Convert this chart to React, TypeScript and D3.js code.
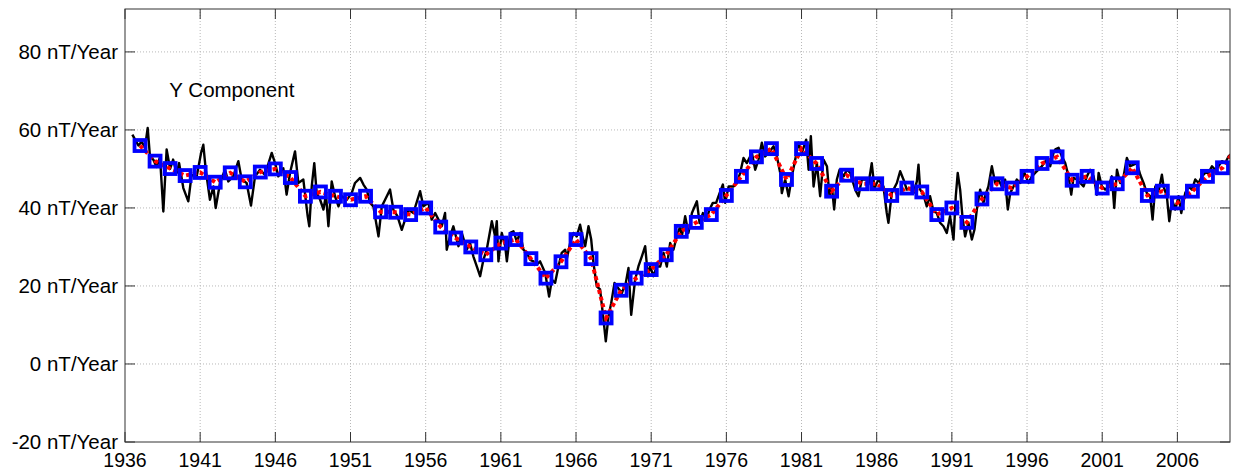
import React from 'react';
import * as d3 from 'd3';

const xTicks = [1936, 1941, 1946, 1951, 1956, 1961, 1966, 1971, 1976, 1981, 1986, 1991, 1996, 2001, 2006];
const yTicks = [-20, 0, 20, 40, 60, 80];
const yTickLabels = ['-20 nT/Year', '0 nT/Year', '20 nT/Year', '40 nT/Year', '60 nT/Year', '80 nT/Year'];
const chartLabel = 'Y Component';

// Annual means (blue squares + red dotted line)
const annualYears = [
  1937, 1938, 1939, 1940, 1941, 1942, 1943, 1944, 1945, 1946, 1947, 1948, 1949, 1950,
  1951, 1952, 1953, 1954, 1955, 1956, 1957, 1958, 1959, 1960, 1961, 1962, 1963, 1964,
  1965, 1966, 1967, 1968, 1969, 1970, 1971, 1972, 1973, 1974, 1975, 1976, 1977, 1978,
  1979, 1980, 1981, 1982, 1983, 1984, 1985, 1986, 1987, 1988, 1989, 1990, 1991, 1992,
  1993, 1994, 1995, 1996, 1997, 1998, 1999, 2000, 2001, 2002, 2003, 2004, 2005, 2006,
  2007, 2008, 2009, 2010,
];
const annualRate = [
  56.0, 52.0, 50.1, 48.3, 49.1, 46.6, 49.0, 46.7, 49.2, 50.0, 47.8, 43.0, 44.1, 43.0,
  42.1, 43.0, 39.0, 38.9, 38.3, 40.0, 35.1, 32.3, 30.0, 28.0, 31.0, 31.9, 27.0, 22.0,
  26.2, 31.9, 27.0, 11.8, 18.9, 22.0, 24.2, 28.0, 34.0, 36.3, 38.3, 43.2, 48.1, 53.1,
  55.2, 47.3, 55.2, 51.4, 44.3, 48.4, 46.2, 46.2, 43.2, 45.1, 44.1, 38.3, 40.0, 36.3,
  42.3, 46.2, 45.1, 48.1, 51.4, 53.1, 47.1, 48.1, 45.1, 46.2, 50.3, 43.2, 44.3, 41.3,
  44.3, 48.1, 50.3, 56.0,
];

// Sub-annual secular variation (black line), time in decimal years
const subTime = [
  1936.49, 1936.67, 1936.89, 1937.11, 1937.33, 1937.51, 1937.66, 1937.88, 1938.10, 1938.33,
  1938.55, 1938.77, 1939.00, 1939.20, 1939.44, 1939.60, 1939.88, 1940.21, 1940.43, 1940.77,
  1941.06, 1941.21, 1941.37, 1941.65, 1941.88, 1942.03, 1942.32, 1942.65, 1942.87, 1943.20,
  1943.54, 1943.76, 1944.09, 1944.38, 1944.65, 1944.98, 1945.31, 1945.76, 1945.98, 1946.20,
  1946.53, 1946.75, 1946.98, 1947.31, 1947.53, 1947.86, 1948.15, 1948.26, 1948.42, 1948.59,
  1948.75, 1948.98, 1949.20, 1949.37, 1949.53, 1949.75, 1949.97, 1950.20, 1950.42, 1950.75,
  1951.08, 1951.30, 1951.64, 1951.86, 1952.08, 1952.30, 1952.52, 1952.86, 1953.08, 1953.30,
  1953.63, 1953.85, 1954.12, 1954.41, 1954.63, 1954.85, 1955.18, 1955.63, 1955.85, 1956.18,
  1956.40, 1956.63, 1956.85, 1957.07, 1957.29, 1957.40, 1957.62, 1957.84, 1958.18, 1958.40,
  1958.73, 1958.95, 1959.17, 1959.40, 1959.62, 1959.84, 1960.06, 1960.40, 1960.62, 1960.73,
  1960.84, 1961.06, 1961.29, 1961.40, 1961.62, 1961.84, 1962.06, 1962.28, 1962.50, 1962.73,
  1962.95, 1963.17, 1963.39, 1963.61, 1963.95, 1964.21, 1964.39, 1964.61, 1964.83, 1965.05,
  1965.28, 1965.39, 1965.61, 1965.83, 1966.05, 1966.27, 1966.43, 1966.61, 1966.83, 1967.01,
  1967.16, 1967.38, 1967.60, 1967.83, 1967.98, 1968.16, 1968.34, 1968.56, 1968.71, 1968.87,
  1969.05, 1969.31, 1969.49, 1969.67, 1969.93, 1970.15, 1970.38, 1970.60, 1970.78, 1970.93,
  1971.15, 1971.37, 1971.60, 1971.82, 1972.04, 1972.26, 1972.48, 1972.70, 1972.93, 1973.04,
  1973.26, 1973.48, 1973.71, 1974.04, 1974.22, 1974.44, 1974.66, 1974.88, 1975.10, 1975.32,
  1975.55, 1975.77, 1975.92, 1976.15, 1976.48, 1976.70, 1976.92, 1977.14, 1977.36, 1977.70,
  1977.92, 1978.14, 1978.36, 1978.58, 1978.81, 1979.14, 1979.36, 1979.58, 1979.69, 1979.91,
  1980.14, 1980.36, 1980.58, 1980.80, 1981.02, 1981.31, 1981.47, 1981.62, 1981.80, 1982.02,
  1982.24, 1982.46, 1982.69, 1982.86, 1983.02, 1983.17, 1983.35, 1983.53, 1983.80, 1984.02,
  1984.24, 1984.57, 1984.79, 1985.01, 1985.34, 1985.45, 1985.67, 1985.85, 1986.12, 1986.45,
  1986.67, 1986.78, 1987.00, 1987.34, 1987.56, 1987.78, 1988.00, 1988.22, 1988.45, 1988.67,
  1988.78, 1988.89, 1989.11, 1989.33, 1989.55, 1989.78, 1990.00, 1990.22, 1990.44, 1990.66,
  1990.88, 1991.11, 1991.26, 1991.39, 1991.55, 1991.70, 1991.88, 1992.10, 1992.33, 1992.50,
  1992.66, 1992.88, 1993.10, 1993.21, 1993.43, 1993.66, 1993.88, 1994.10, 1994.32, 1994.54,
  1994.72, 1994.88, 1995.10, 1995.32, 1995.54, 1995.83, 1996.10, 1996.32, 1996.54, 1996.76,
  1996.98, 1997.31, 1997.54, 1997.76, 1997.88, 1998.10, 1998.32, 1998.54, 1998.76, 1998.94,
  1999.09, 1999.32, 1999.54, 1999.76, 1999.98, 2000.20, 2000.43, 2000.65, 2000.76, 2000.98,
  2001.20, 2001.42, 2001.64, 2001.80, 2001.98, 2002.20, 2002.42, 2002.64, 2002.86, 2003.09,
  2003.31, 2003.53, 2003.75, 2003.97, 2004.19, 2004.35, 2004.53, 2004.75, 2004.97, 2005.08,
  2005.30, 2005.46, 2005.64, 2005.86, 2006.08, 2006.26, 2006.52, 2006.74, 2006.97, 2007.19,
  2007.41, 2007.63, 2007.85, 2008.07, 2008.30, 2008.52, 2008.74, 2008.96, 2009.18, 2009.40,
  2009.63,
];
const subRate = [
  58.8, 57.5, 56.0, 57.0, 55.5, 60.5, 53.2, 52.4, 50.5, 53.0,
  39.1, 55.0, 50.0, 52.4, 49.0, 51.5, 45.1, 41.7, 48.5, 48.1,
  54.1, 56.2, 49.8, 42.1, 45.5, 40.0, 46.4, 49.8, 46.8, 48.1,
  52.0, 47.3, 46.4, 40.6, 48.1, 49.8, 48.5, 54.1, 51.5, 48.1,
  50.2, 43.4, 49.0, 54.5, 46.4, 47.3, 37.9, 35.3, 45.5, 51.5,
  43.8, 42.1, 39.6, 43.4, 35.3, 46.8, 43.0, 40.4, 43.0, 42.1,
  43.8, 46.4, 47.7, 46.0, 44.7, 41.3, 40.4, 32.7, 40.4, 42.1,
  44.7, 39.6, 37.9, 34.4, 37.0, 39.6, 38.7, 44.3, 40.4, 41.3,
  37.0, 38.7, 37.0, 35.3, 38.7, 29.3, 32.7, 35.3, 30.2, 33.6,
  29.3, 31.0, 27.6, 25.0, 22.5, 26.7, 29.3, 36.6, 32.7, 36.6,
  26.3, 33.6, 30.2, 26.3, 33.6, 34.0, 31.4, 33.6, 29.3, 28.5,
  26.7, 26.3, 25.5, 26.3, 23.3, 17.3, 21.6, 20.8, 25.0, 28.5,
  29.3, 27.0, 31.0, 33.6, 32.7, 35.7, 32.7, 30.2, 35.3, 31.9,
  25.9, 19.9, 19.1, 11.3, 5.8, 12.2, 15.6, 20.8, 19.9, 19.1,
  18.2, 20.8, 24.6, 12.6, 21.6, 25.0, 27.6, 30.2, 22.5, 25.0,
  22.5, 25.0, 25.0, 28.5, 25.0, 31.0, 29.3, 32.7, 35.3, 32.7,
  37.9, 33.6, 38.7, 41.7, 36.1, 38.7, 37.0, 39.6, 41.3, 41.3,
  43.8, 46.0, 41.3, 45.5, 45.5, 46.4, 49.0, 52.8, 51.5, 54.1,
  49.8, 52.4, 56.7, 53.2, 54.1, 55.8, 53.2, 49.0, 43.8, 47.3,
  43.0, 48.1, 52.4, 56.7, 54.1, 57.5, 49.8, 58.4, 45.5, 51.5,
  43.0, 52.4, 50.7, 43.0, 45.5, 39.6, 47.3, 49.8, 48.1, 49.8,
  49.0, 44.7, 43.0, 47.3, 47.3, 46.0, 51.5, 45.1, 47.3, 45.5,
  38.7, 36.2, 43.8, 46.4, 49.4, 47.3, 44.7, 45.1, 43.8, 46.8,
  51.1, 44.7, 43.4, 40.4, 43.0, 39.1, 38.7, 36.2, 35.3, 33.6,
  37.9, 31.9, 43.0, 49.0, 44.7, 37.9, 32.7, 36.2, 31.9, 34.4,
  39.6, 44.7, 41.3, 43.0, 45.5, 50.7, 46.4, 47.3, 45.5, 47.3,
  39.6, 43.8, 45.5, 47.3, 46.4, 49.0, 46.4, 48.1, 49.0, 49.8,
  50.7, 52.4, 50.7, 54.1, 55.0, 55.4, 53.2, 51.5, 48.1, 43.4,
  47.7, 47.3, 46.4, 45.5, 48.1, 49.8, 48.1, 43.4, 49.0, 45.5,
  44.7, 45.5, 48.1, 40.0, 49.8, 46.4, 48.1, 52.8, 50.7, 51.1,
  51.5, 48.5, 46.4, 43.8, 43.0, 37.0, 45.5, 44.3, 48.5, 45.5,
  43.0, 36.6, 42.1, 39.6, 43.0, 38.7, 43.8, 45.5, 44.7, 47.3,
  46.4, 48.1, 49.0, 49.0, 50.7, 49.8, 50.7, 52.0, 51.5, 53.2,
  54.0,
];

const W = 1235;
const H = 475;
const L = 125, R = 1230, T = 9, B = 442;
const FONT = "'Liberation Sans', Arial, Helvetica, sans-serif";

export default function App() {
  const x = d3.scaleLinear().domain([1936, 2009.5]).range([L, R]);
  const y = d3.scaleLinear().domain([-20, 91]).range([B, T]);

  const sub: [number, number][] = subTime.map((t, i) => [t, subRate[i]]);
  const annual: [number, number][] = annualYears.map((t, i) => [t, annualRate[i]]);
  const line = d3.line<[number, number]>().x(d => x(d[0])).y(d => y(d[1]));

  const tickLen = 10;
  const axisColor = '#333';
  const gridColor = '#b8b8b8';
  const sq = 11;

  return (
    <svg width={W} height={H} style={{ position: 'absolute', left: 0, top: 0, background: '#fff' }}
      fontFamily={FONT}>
      <defs>
        <clipPath id="plotClip">
          <rect x={L} y={T} width={R - L} height={B - T} />
        </clipPath>
      </defs>
      <rect x={0} y={0} width={W} height={H} fill="#fff" />
      {/* grid */}
      {xTicks.filter(t => x(t) > L + 1).map(t => (
        <line key={'gx' + t} x1={x(t)} x2={x(t)} y1={T} y2={B} stroke={gridColor} strokeWidth={1} strokeDasharray="1 2" />
      ))}
      {yTicks.filter(t => y(t) < B - 1).map(t => (
        <line key={'gy' + t} x1={L} x2={R} y1={y(t)} y2={y(t)} stroke={gridColor} strokeWidth={1} strokeDasharray="1 2" />
      ))}
      {/* data */}
      <g clipPath="url(#plotClip)">
        <path d={line(sub) || ''} fill="none" stroke="#000" strokeWidth={2.4} strokeLinejoin="round" />
        <path d={line(annual) || ''} fill="none" stroke="#ff0000" strokeWidth={4} strokeDasharray="4 3" />
        {annual.filter(d => d[0] <= 2009.5).map(d => (
          <rect key={'s' + d[0]} x={x(d[0]) - sq / 2} y={y(d[1]) - sq / 2} width={sq} height={sq}
            fill="none" stroke="#0000ff" strokeWidth={3.8} />
        ))}
      </g>
      {/* axes box */}
      <rect x={L} y={T} width={R - L} height={B - T} fill="none" stroke={axisColor} strokeWidth={1} />
      {/* x ticks */}
      {xTicks.map(t => (
        <g key={'xt' + t}>
          <line x1={x(t)} x2={x(t)} y1={B} y2={B - tickLen} stroke={axisColor} strokeWidth={1} />
          <line x1={x(t)} x2={x(t)} y1={T} y2={T + tickLen} stroke={axisColor} strokeWidth={1} />
          <text x={x(t)} y={467} textAnchor="middle" fontSize={19.5} fill="#000">{t}</text>
        </g>
      ))}
      {/* y ticks */}
      {yTicks.map((t, i) => (
        <g key={'yt' + t}>
          <line x1={L} x2={L + tickLen} y1={y(t)} y2={y(t)} stroke={axisColor} strokeWidth={1} />
          <line x1={R} x2={R - tickLen} y1={y(t)} y2={y(t)} stroke={axisColor} strokeWidth={1} />
          <text x={118} y={y(t) + 7} textAnchor="end" fontSize={20.5} fill="#000">{yTickLabels[i]}</text>
        </g>
      ))}
      <text x={x(1938.95)} y={y(70) + 6} fontSize={20.5} fill="#000">{chartLabel}</text>
    </svg>
  );
}
